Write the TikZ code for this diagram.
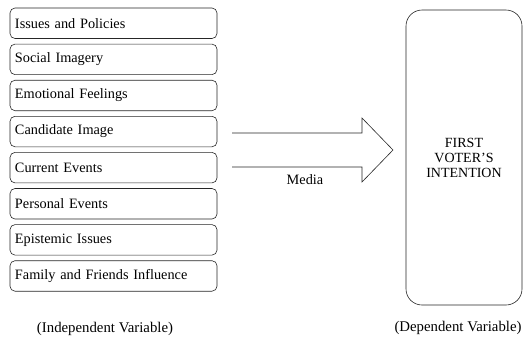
\documentclass[tikz,border=0pt]{standalone}
\usepackage{fontspec}
\setmainfont{Liberation Serif}
\usetikzlibrary{positioning}

\begin{document}
\begin{tikzpicture}[x=1pt,y=-1pt,
    factor/.style={draw=black!85, line width=0.6pt, rounded corners=5pt,
      minimum width=207pt, minimum height=30.5pt, text width=197pt,
      align=left, inner sep=5pt, font=\fontsize{14.3}{15}\selectfont},
    target/.style={draw=black!85, line width=0.6pt, rounded corners=16pt,
      minimum width=116pt, minimum height=295pt, align=center,
      font=\fontsize{14}{15}\selectfont},
    caption/.style={font=\fontsize{14.8}{15}\selectfont}]
  \useasboundingbox (0,0) rectangle (528,338);

	\node (A) [factor] at (113.5,23.25) {Issues and Policies};
	\node (B) [factor, below=5pt of A] {Social Imagery};
	\node (C) [factor, below=5pt of B] {Emotional Feelings};
	\node (D) [factor, below=5pt of C] {Candidate Image};
	\node (E) [factor, below=5pt of D] {Current Events};
	\node (F) [factor, below=5pt of E] {Personal Events};
	\node (G) [factor, below=5pt of F] {Epistemic Issues};
	\node (H) [factor, below=5pt of G] {Family and Friends Influence};

	\node (V) [target] at (464,157.5) {FIRST\\VOTER'S\\INTENTION};

  % media arrow
  \draw[black!85, line width=0.6pt] (232,133) -- (362,133) -- (362,118)
    -- (393,150) -- (362,182) -- (362,167) -- (232,167);
	\node (M) [caption, font=\fontsize{14.3}{15}\selectfont] at (305,180) {Media};

	\node (I) [caption] at (105,329) {(Independent Variable)};
	\node (J) [caption] at (458,328) {(Dependent Variable)};
\end{tikzpicture}
\end{document}
